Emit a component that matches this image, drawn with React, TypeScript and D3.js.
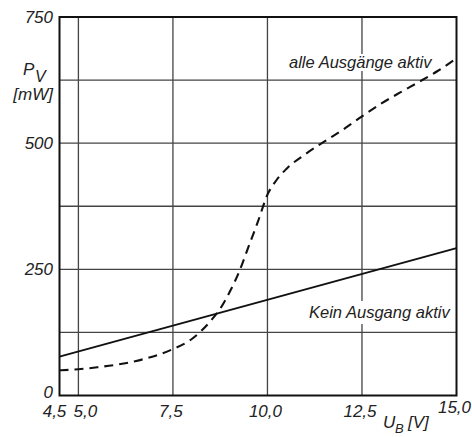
import { useEffect } from 'react';
import * as d3 from 'd3';

// supply voltage in V
const ubValues = [4.5, 5.0, 5.5, 6.0, 6.5, 7.0, 7.5, 8.0, 8.5, 8.75, 9.0, 9.25, 9.5, 9.75, 10.0, 10.25, 10.5, 11.0, 11.5, 12.0, 12.5, 13.0, 13.5, 14.0, 14.5, 15.0];
// power dissipation, all outputs active (mW)
const allActive = [50, 52, 56, 61, 68, 78, 92, 112, 148, 172, 205, 245, 295, 345, 398, 428, 449, 478, 503, 527, 553, 578, 600, 621, 643, 668];
// power dissipation, no output active (mW)
const noneUb = [4.5, 15.0];
const noneActive = [77, 292];

const xTicks = [4.5, 5.0, 7.5, 10.0, 12.5, 15.0];
const xGrid = [5.0, 7.5, 10.0, 12.5];
const yTicks = [0, 250, 500, 750];
const yGrid = [125, 250, 375, 500, 625];

const W = 472;
const H = 437;
const FONT = '"Liberation Sans", Arial, sans-serif';

export default function App() {
    useEffect(() => {
        document.body.style.margin = '0';
    }, []);

    const x = d3.scaleLinear().domain([4.5, 15]).range([59.5, 456.5]);
    const y = d3.scaleLinear().domain([0, 750]).range([395.5, 17]);

    const dashed = d3.line<number>()
        .x((_, i) => x(ubValues[i]))
        .y(d => y(d))
        .curve(d3.curveMonotoneX)(allActive) || '';

    const solid = d3.line<number>()
        .x((_, i) => x(noneUb[i]))
        .y(d => y(d))(noneActive) || '';

    const fmt = (v: number) => (v === 0 ? '0' : v.toFixed(1).replace('.', ','));

    // small nudges so the crowded labels at the left do not collide
    const xLabelPos = (v: number) => {
        if (v === 4.5) return x(v) - 5;
        if (v === 5.0) return x(v) + 7;
        return x(v) - 2;
    };

    const [x0, x1] = x.range();
    const [yb, yt] = y.range();

    return (
        <svg width={W} height={H} style={{ display: 'block' }} fontFamily={FONT} fontStyle="italic">
            <rect width={W} height={H} fill="#fff" />

            {/* grid */}
            <g stroke="#444" strokeWidth={1.3}>
                {xGrid.map(v => (
                    <line key={'gx' + v} x1={x(v)} x2={x(v)} y1={yt} y2={yb} />
                ))}
                {yGrid.map(v => (
                    <line key={'gy' + v} x1={x0} x2={x1} y1={y(v)} y2={y(v)} />
                ))}
            </g>

            {/* curves */}
            <path d={solid} fill="none" stroke="#111" strokeWidth={2} />
            <path d={dashed} fill="none" stroke="#111" strokeWidth={2.1} strokeDasharray="9,6" />

            {/* frame */}
            <rect x={x0} y={yt} width={x1 - x0} height={yb - yt} fill="none" stroke="#111" strokeWidth={2} />

            {/* curve labels */}
            <rect x={287} y={54} width={147} height={17} fill="#fff" />
            <text x={289} y={68} fontSize={16.5} fill="#222">alle Ausgänge aktiv</text>
            <rect x={306} y={301} width={147} height={23} fill="#fff" />
            <text x={309} y={318} fontSize={16.5} fill="#222">Kein Ausgang aktiv</text>

            {/* y tick labels */}
            {yTicks.map(v => (
                <text key={'ty' + v} x={53} y={v === 0 ? 398 : y(v) + 6} fontSize={17} textAnchor="end" fill="#222">
                    {v}
                </text>
            ))}

            {/* x tick labels */}
            {xTicks.map(v => (
                <text key={'tx' + v} x={xLabelPos(v)} y={v === 15 ? 413 : 417} fontSize={17} textAnchor="middle" fill="#222">
                    {fmt(v)}
                </text>
            ))}

            {/* axis titles */}
            <text x={23} y={75} fontSize={17} fill="#222">P</text>
            <text x={35} y={82} fontSize={16} fill="#222">V</text>
            <text x={53} y={100} fontSize={17} textAnchor="end" fill="#222">[mW]</text>

            <text x={383} y={428} fontSize={17} fill="#222">U</text>
            <text x={395} y={433} fontSize={13} fill="#222">B</text>
            <text x={408} y={428} fontSize={17} fill="#222">[V]</text>
        </svg>
    );
}
